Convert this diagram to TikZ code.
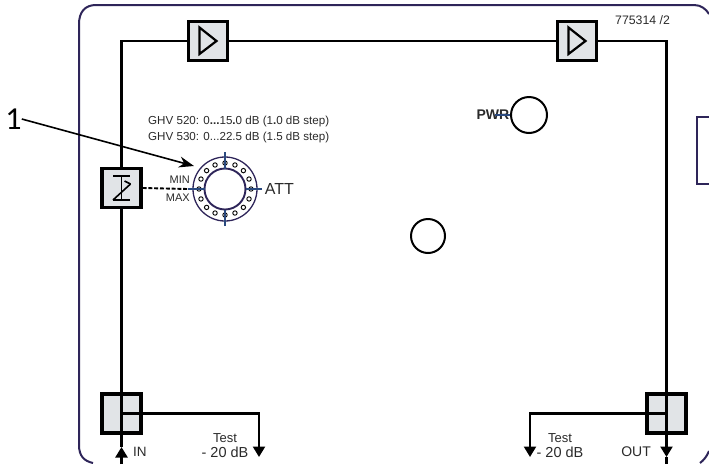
\documentclass[tikz,border=0pt]{standalone}
\usepackage{fontspec}
\setmainfont{Liberation Sans}
\newfontfamily\numfont{Carlito}
\usetikzlibrary{shapes,arrows.meta,positioning,calc}
\definecolor{framecol}{HTML}{2E2559}
\definecolor{boxcol}{HTML}{E1E4E7}
\definecolor{tickcol}{HTML}{2B4A7F}
\definecolor{labelcol}{HTML}{2A2A2A}

\begin{document}
\begin{tikzpicture}[x=1pt,y=-1pt,
    block/.style={draw, line width=3.2pt, fill=boxcol, rectangle, minimum size=39pt, inner sep=0pt},
    wire/.style={line width=2.3pt},
    endarrow/.style={wire, -{Triangle[width=12pt,length=10.5pt]}},
    lbl/.style={inner sep=0pt, text=labelcol, font=\fontsize{11}{13}\selectfont},
    hole/.style={draw, circle, line width=0.9pt, minimum size=4.4pt, inner sep=0pt},
    tick/.style={draw=tickcol, line width=1.5pt}]
    \useasboundingbox (0,0) rectangle (709,464);

    % housing
    \draw [framecol, line width=2pt] (93,463) .. controls (84,461) and (79,456) .. (79,445) -- (79,24)
        .. controls (79,12) and (85,5) .. (96,5) -- (694,5) .. controls (701,5) and (706,9) .. (709,14);
    \draw [framecol, line width=2pt] (709,451) .. controls (707,456) and (704,460) .. (700,463);
    \draw [framecol, line width=1.6pt] (709,117) -- (697,117) -- (697,184) -- (709,184);

    \node (amp1) [block] at (208,41) {};
    \node (amp2) [block] at (577,41) {};
    \node (att) [block] at (121.5,188) {};
    \node (splitL) [block] at (121.5,413.5) {};
    \node (splitR) [block] at (666.5,413.5) {};

    \coordinate (inend) at (121.5,464);
    \coordinate (intip) at (121.5,447);
    \coordinate (outtip) at (666.5,457);
    \coordinate (outend) at (666.5,464);
    \coordinate (testL) at (259,457);
    \coordinate (testR) at (530,457);

    \draw [wire] (att.north) |- (amp1.west);
    \draw [wire] (amp1.east) -- (amp2.west);
    \draw [wire] (amp2.east) -| (splitR.center);
    \draw [wire] (att.south) -- (splitL.center);
    \draw [endarrow] (inend) -- (intip);
    \draw [wire] (intip) -- (splitL.center);
    \draw [endarrow] (splitR.center) -- (outtip);
    \draw [wire] (outtip) -- (outend);
    \draw [endarrow] (splitL.center) -| (testL);
    \draw [endarrow] (splitR.center) -| (testR);

    % block symbols
    \foreach \n in {amp1,amp2} {
        \draw [line width=2.2pt, line join=miter] ($(\n)+(-8.5,-13.5)$) -- ($(\n)+(8.5,0)$) -- ($(\n)+(-8.5,13)$) -- cycle;
    }
    \draw [line width=2.2pt] ($(att)+(-8.5,-12)$) -- ($(att)+(8.5,-12)$);
    \draw [line width=2.2pt] ($(att)+(-8.5,12)$) -- ($(att)+(8.5,12)$);
    \draw [line width=1.8pt] ($(att)+(0,-12)$) -- ($(att)+(0,12)$);
    \draw [line width=1.6pt] ($(att)+(-8.5,12)$) -- ($(att)+(9,-4)$);
    \draw [line width=1.6pt] ($(att)+(3,-7)$) -- ($(att)+(9,-4)$);

    % attenuator knob
    \node (knob) [draw=framecol, circle, line width=1.3pt, minimum size=64pt, inner sep=0pt] at (225,189) {};
    \node (knobin) [draw=framecol, circle, line width=1.9pt, minimum size=41pt, inner sep=0pt] at (knob.center) {};
    \foreach \a in {0,22.5,...,337.5} {
        \node [hole] at ($(knob.center)+(\a:26)$) {};
    }
    \foreach \a in {0,90,180,270} {
        \draw [tick] ($(knob.center)+(\a:37)$) -- ($(knob.center)+(\a:20.5)$);
    }
    \draw [line width=1.9pt, dash pattern=on 4pt off 1.8pt] (att.east) -- ($(knob.center)+(180:37)$);

    \node (att label) [lbl, font=\fontsize{16}{18}\selectfont, right=3pt of knob.east, xshift=4pt] {ATT};
    \node (min label) [lbl, anchor=east] at (190,180) {MIN};
    \node (max label) [lbl, anchor=east] at (190,198) {MAX};
    \node (range1) [lbl, anchor=west, font=\fontsize{11.6}{13}\selectfont] at (148,121) {GHV 520: 0{\bfseries...}15{\bfseries.}0 dB (1{\bfseries.}0 dB step)};
    \node (range2) [lbl, anchor=west, font=\fontsize{11.6}{13}\selectfont] at (148,137) {GHV 530: 0...22.5 dB (1.5 dB step)};

    \node (callout) [inner sep=0pt, font=\numfont\fontsize{32}{34}\selectfont] at (13.5,119) {1};
    \coordinate (callouttip) at (194,166);
    \draw [line width=1.6pt, -{Stealth[width=11pt,length=15pt]}] (callout.east) -- (callouttip);

    % leds
    \node (pwr) [draw, circle, line width=2pt, minimum size=36pt, inner sep=0pt] at (529,115) {};
    \node (pwr label) [lbl, anchor=east, font=\fontsize{14}{16}\bfseries\selectfont] at (509.5,115) {PWR};
    \draw [tick] (pwr.west) -- ++(-15,0);
    \node (led) [draw, circle, line width=2pt, minimum size=34pt, inner sep=0pt] at (428,236) {};

    \node (partno) [lbl, anchor=west, font=\fontsize{12.3}{14}\selectfont] at (615,20) {775314 /2};
    \node (in label) [lbl, anchor=west, font=\fontsize{13.5}{15}\selectfont] at (133,452) {IN};
    \node (out label) [lbl, anchor=east, font=\fontsize{14}{16}\selectfont] at (651,452) {OUT};
    \node (test1) [lbl, font=\fontsize{13}{15}\selectfont] at (225,438) {Test};
    \node (db1) [lbl, font=\fontsize{14.5}{16}\selectfont] at (225,452) {- 20 dB};
    \node (test2) [lbl, font=\fontsize{13}{15}\selectfont] at (560,438) {Test};
    \node (db2) [lbl, font=\fontsize{14.5}{16}\selectfont] at (560,452) {- 20 dB};
\end{tikzpicture}
\end{document}
